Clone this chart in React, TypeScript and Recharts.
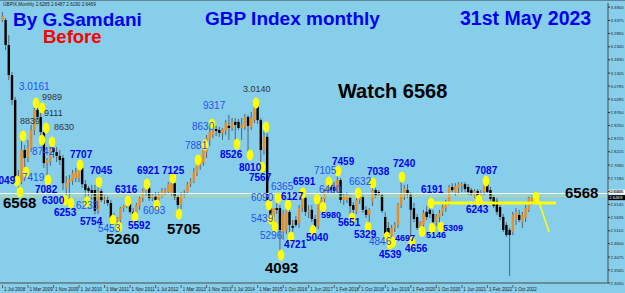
import React from "react";
import { ComposedChart, Bar, XAxis, YAxis, ReferenceLine, ReferenceDot } from "recharts";

// monthly GBP index bars [open, high, low, close], Jul 2008 .. May 2023 (feed has gaps)
const CANDLES: [number, number, number, number][] = [
  [3.339, 3.371, 3.331, 3.355], [3.339, 3.347, 3.221, 3.241], [3.241, 3.28, 3.103, 3.123], [3.123, 3.135, 3.005, 3.025],
  [3.025, 3.037, 2.7049, 2.718], [2.718, 2.75, 2.6568, 2.702], [2.702, 2.8839, 2.694, 2.828], [2.828, 2.848, 2.7419, 2.797],
  [2.797, 2.868, 2.781, 2.836], [2.836, 2.927, 2.82, 2.907], [2.907, 3.0161, 2.887, 2.986], [2.986, 2.994, 2.946, 2.958],
  [2.958, 2.9989, 2.8742, 2.899], [2.899, 2.9111, 2.758, 2.777], [2.777, 2.797, 2.7082, 2.789], [2.785, 2.848, 2.766, 2.836],
  [2.836, 2.863, 2.797, 2.82], [2.82, 2.84, 2.781, 2.805], [2.805, 2.828, 2.769, 2.789], [2.797, 2.809, 2.671, 2.698],
  [2.679, 2.726, 2.63, 2.702], [2.702, 2.73, 2.6253, 2.714], [2.706, 2.75, 2.691, 2.738], [2.718, 2.758, 2.702, 2.742],
  [2.718, 2.7707, 2.702, 2.758], [2.758, 2.766, 2.679, 2.694], [2.694, 2.71, 2.6233, 2.671], [2.679, 2.687, 2.647, 2.667],
  [2.671, 2.691, 2.632, 2.659], [2.671, 2.691, 2.5754, 2.589], [2.593, 2.7045, 2.577, 2.667], [2.667, 2.675, 2.624, 2.632],
  [2.632, 2.651, 2.616, 2.636], [2.632, 2.647, 2.608, 2.62], [2.62, 2.632, 2.5453, 2.561], [2.561, 2.581, 2.538, 2.549],
  [2.549, 2.565, 2.526, 2.561], [2.553, 2.604, 2.538, 2.6], [2.6, 2.612, 2.585, 2.608], [2.608, 2.6316, 2.6, 2.62],
  [2.616, 2.624, 2.577, 2.585], [2.585, 2.6, 2.5592, 2.573], [2.573, 2.62, 2.565, 2.612], [2.608, 2.647, 2.593, 2.64],
  [2.64, 2.679, 2.624, 2.667], [2.667, 2.6921, 2.647, 2.679], [2.679, 2.687, 2.628, 2.64], [2.64, 2.659, 2.628, 2.647],
  [2.647, 2.663, 2.6093, 2.632], [2.632, 2.663, 2.62, 2.651], [2.647, 2.679, 2.64, 2.667], [2.663, 2.679, 2.651, 2.671],
  [2.663, 2.702, 2.655, 2.694], [2.659, 2.7125, 2.647, 2.698], [2.698, 2.706, 2.632, 2.643], [2.643, 2.651, 2.5705, 2.612],
  [2.612, 2.663, 2.596, 2.651], [2.651, 2.671, 2.64, 2.659], [2.663, 2.702, 2.655, 2.694], [2.694, 2.718, 2.683, 2.706],
  [2.706, 2.758, 2.698, 2.742], [2.738, 2.7881, 2.726, 2.777], [2.769, 2.797, 2.75, 2.789], [2.777, 2.863, 2.766, 2.828],
  [2.82, 2.887, 2.797, 2.876], [2.868, 2.915, 2.844, 2.899], [2.887, 2.9317, 2.876, 2.911], [2.911, 2.923, 2.883, 2.903],
  [2.907, 2.919, 2.88, 2.895], [2.895, 2.915, 2.868, 2.911], [2.903, 2.946, 2.887, 2.935], [2.923, 2.966, 2.868, 2.915],
  [2.915, 2.954, 2.903, 2.939], [2.939, 2.954, 2.8526, 2.927], [2.939, 2.95, 2.907, 2.915], [2.915, 2.954, 2.868, 2.927],
  [2.919, 2.97, 2.907, 2.958], [2.958, 2.966, 2.801, 2.923], [2.919, 2.978, 2.907, 2.954], [2.946, 3.014, 2.935, 3.001],
  [3.001, 3.009, 2.931, 2.946], [2.946, 2.954, 2.7567, 2.828], [2.828, 2.919, 2.809, 2.88], [2.88, 2.895, 2.609, 2.632],
  [2.616, 2.632, 2.5439, 2.573], [2.545, 2.593, 2.5296, 2.6], [2.6, 2.6365, 2.577, 2.593], [2.6, 2.612, 2.4093, 2.514],
  [2.506, 2.593, 2.475, 2.577], [2.514, 2.6127, 2.498, 2.589], [2.585, 2.593, 2.4721, 2.534], [2.53, 2.553, 2.506, 2.522],
  [2.553, 2.569, 2.526, 2.534], [2.542, 2.612, 2.522, 2.6], [2.6, 2.6591, 2.585, 2.64], [2.64, 2.647, 2.569, 2.585],
  [2.585, 2.612, 2.561, 2.593], [2.593, 2.612, 2.545, 2.557], [2.557, 2.573, 2.504, 2.526], [2.53, 2.64, 2.518, 2.624],
  [2.624, 2.643, 2.598, 2.636], [2.636, 2.675, 2.62, 2.667], [2.667, 2.7105, 2.655, 2.698], [2.698, 2.706, 2.659, 2.671],
  [2.683, 2.702, 2.655, 2.667], [2.667, 2.7459, 2.655, 2.71], [2.71, 2.718, 2.62, 2.632], [2.632, 2.655, 2.612, 2.643],
  [2.632, 2.663, 2.62, 2.651], [2.64, 2.651, 2.577, 2.608], [2.612, 2.624, 2.5651, 2.593], [2.585, 2.64, 2.577, 2.632],
  [2.632, 2.6632, 2.616, 2.643], [2.643, 2.651, 2.581, 2.593], [2.593, 2.608, 2.561, 2.573], [2.573, 2.6, 2.5329, 2.593],
  [2.624, 2.7038, 2.608, 2.671], [2.671, 2.679, 2.64, 2.651], [2.663, 2.671, 2.647, 2.655], [2.651, 2.659, 2.581, 2.589],
  [2.565, 2.585, 2.4846, 2.498], [2.522, 2.545, 2.4539, 2.49], [2.49, 2.534, 2.4697, 2.522], [2.522, 2.545, 2.506, 2.534],
  [2.534, 2.62, 2.522, 2.612], [2.612, 2.724, 2.6, 2.659], [2.651, 2.691, 2.632, 2.679], [2.671, 2.694, 2.64, 2.659],
  [2.651, 2.663, 2.4656, 2.593], [2.6, 2.62, 2.545, 2.557], [2.565, 2.577, 2.514, 2.522], [2.518, 2.549, 2.506, 2.545],
  [2.534, 2.593, 2.518, 2.581], [2.585, 2.608, 2.553, 2.565], [2.593, 2.6191, 2.561, 2.577], [2.577, 2.593, 2.5146, 2.545],
  [2.545, 2.577, 2.53, 2.569], [2.565, 2.593, 2.5309, 2.581], [2.581, 2.616, 2.569, 2.604], [2.6, 2.632, 2.585, 2.62],
  [2.62, 2.691, 2.612, 2.683], [2.683, 2.698, 2.663, 2.671], [2.659, 2.698, 2.647, 2.687], [2.679, 2.702, 2.655, 2.694],
  [2.687, 2.702, 2.663, 2.694], [2.694, 2.702, 2.663, 2.675], [2.683, 2.694, 2.651, 2.663], [2.671, 2.679, 2.647, 2.655],
  [2.651, 2.675, 2.64, 2.667], [2.667, 2.675, 2.6243, 2.647], [2.647, 2.671, 2.636, 2.659], [2.663, 2.7087, 2.651, 2.702],
  [2.694, 2.702, 2.655, 2.663], [2.671, 2.683, 2.628, 2.636], [2.643, 2.651, 2.6, 2.608], [2.628, 2.64, 2.573, 2.585],
  [2.604, 2.612, 2.553, 2.565], [2.565, 2.577, 2.506, 2.514], [2.534, 2.545, 2.487, 2.494], [2.514, 2.522, 2.333, 2.494],
  [2.506, 2.585, 2.494, 2.573], [2.553, 2.6, 2.534, 2.585], [2.573, 2.593, 2.545, 2.553], [2.545, 2.585, 2.522, 2.573],
  [2.561, 2.612, 2.545, 2.6], [2.593, 2.647, 2.585, 2.64], [2.62, 2.651, 2.612, 2.64], [2.6285, 2.6487, 2.619, 2.6469],
];

// date labels, one every 8 bars
const X_LABELS = [
  "1 Jul 2008", "1 Mar 2009", "1 Nov 2009", "1 Jul 2010", "1 Mar 2011", "1 Nov 2011", "1 Jul 2012",
  "1 Mar 2013", "1 Nov 2013", "1 Jul 2014", "1 Mar 2015", "1 Oct 2016", "1 Jun 2017", "1 Feb 2018",
  "1 Oct 2018", "1 Jun 2019", "1 Feb 2020", "1 Oct 2020", "1 Jun 2021", "1 Feb 2022", "1 Oct 2022",
];
const X_STEP = 8;

const Y_TICKS = [
  3.39, 3.3375, 3.2865, 3.234, 3.183, 3.1305, 3.0795, 3.0285, 2.976, 2.925, 2.8725,
  2.8215, 2.769, 2.718, 2.6655, 2.6145, 2.5635, 2.511, 2.46, 2.4075, 2.3565, 2.3055,
];

const WATCH = 2.6568;
const LAST = 2.6469;
const NECK = 2.62;

// yellow markers at pivots [bar, price]
const PIVOTS: [number, number][] = [
  [4.55, 2.7065], [5.49, 2.6633], [6.43, 2.8834], [7.37, 2.7419], [10.5, 3.0131], [12.38, 2.9935],
  [13.64, 2.9148], [12.38, 2.8677], [15.52, 2.8598], [14.26, 2.7104], [19.59, 2.6318], [21.47, 2.62],
  [24.29, 2.7694], [26.49, 2.6239], [30.25, 2.7026], [34.64, 2.553], [36.52, 2.5257], [39.34, 2.6279],
  [41.54, 2.5649], [45.3, 2.6947], [48.43, 2.6121], [53.45, 2.7183], [55.33, 2.5767], [61.29, 2.7891],
  [63.48, 2.8481], [65.67, 2.9306], [73.51, 2.852], [77.59, 2.8087], [79.47, 3.0131], [81.35, 2.7615],
  [82.6, 2.9188], [83.54, 2.6121], [84.17, 2.5571], [85.42, 2.5257], [86.36, 2.6397], [87.3, 2.4156],
  [89.5, 2.6121], [90.44, 2.4863], [94.2, 2.6593], [97.34, 2.5122], [98.59, 2.6357], [100.47, 2.6043],
  [102.35, 2.7026], [105.17, 2.7458], [109.56, 2.561], [111.44, 2.6593], [114.58, 2.5256], [116.14, 2.6986],
  [120.53, 2.4863], [121.47, 2.4588], [122.41, 2.4667], [125.24, 2.722], [128.37, 2.4667], [131.5, 2.5082],
  [134.64, 2.52], [137.46, 2.5256], [134.33, 2.62], [149.37, 2.6318], [151.57, 2.7065], [167.24, 2.6436],
];

// notes [text, bar, price, style]
const NOTES: [string, number, number, string][] = [
  ["3.0161", 5.17, 3.076, "n"], ["7419", 6.11, 2.722, "n"], ["8742", 9.25, 2.8205, "n"], ["6233", 23.04, 2.6082, "n"],
  ["6093", 44.04, 2.5886, "n"], ["5453", 29.94, 2.5217, "n"], ["7881", 57.21, 2.8441, "n"], ["8630", 59.4, 2.9188, "n"],
  ["9317", 62.85, 3.0013, "n"], ["6365", 84.17, 2.6868, "n"], ["6090", 77.9, 2.6397, "n"], ["5439", 77.9, 2.561, "n"],
  ["5296", 80.72, 2.4903, "n"], ["7105", 97.65, 2.7497, "n"], ["6400", 99.22, 2.675, "n"], ["6632", 108.62, 2.7026, "n"],
  ["4846", 114.89, 2.4706, "n"],
  ["7049", -2.98, 2.7065, "b"], ["7707", 21.16, 2.8126, "b"], ["7082", 10.19, 2.675, "b"], ["7045", 27.43, 2.7497, "b"],
  ["6921", 42.16, 2.7458, "b"], ["7125", 50.0, 2.7458, "b"], ["6316", 35.27, 2.6711, "b"], ["6300", 12.38, 2.6279, "b"],
  ["6253", 16.14, 2.5807, "b"], ["5754", 24.29, 2.5453, "b"], ["5592", 39.34, 2.5296, "b"], ["8526", 68.18, 2.8126, "b"],
  ["8010", 74.14, 2.7615, "b"], ["7567", 77.27, 2.722, "b"], ["6127", 87.3, 2.6436, "b"], ["6591", 91.07, 2.7026, "b"],
  ["7459", 103.29, 2.7812, "b"], ["5651", 105.17, 2.5414, "b"], ["7038", 114.26, 2.7419, "b"], ["5329", 110.19, 2.4981, "b"],
  ["4539", 118.03, 2.4195, "b"], ["7240", 122.41, 2.7733, "b"], ["4656", 126.18, 2.4392, "b"], ["6191", 131.19, 2.675, "b"],
  ["6243", 145.3, 2.5925, "b"], ["7087", 148.12, 2.7458, "b"], ["4721", 88.24, 2.4549, "b"], ["5040", 95.14, 2.4863, "b"],
  ["5980", 99.84, 2.5728, "s"], ["4697", 123.04, 2.4824, "s"], ["5146", 132.76, 2.4942, "s"], ["5309", 138.09, 2.5217, "s"],
  ["9989", 12.38, 3.0367, "g"], ["8839", 5.49, 2.9423, "g"], ["9111", 13.01, 2.9738, "g"], ["8630", 16.14, 2.9188, "g"],
  ["3.0140", 75.39, 3.0681, "g"],
  ["6568", 0.16, 2.62, "k"], ["5260", 32.45, 2.4785, "k"], ["5705", 51.57, 2.5217, "k"], ["4093", 82.29, 2.3645, "k"],
  ["6568", 176.33, 2.6593, "k"], ["Watch 6568", 105.17, 3.0603, "w"],
];

const FONT = "'Liberation Sans', Arial, sans-serif";
const NOTE_STYLE: Record<string, any> = {
  n: { fill: "#2450f0", fontSize: 10, fontWeight: 400 },
  b: { fill: "#0000f0", fontSize: 10, fontWeight: 700 },
  s: { fill: "#0000f0", fontSize: 9, fontWeight: 700 },
  g: { fill: "#333333", fontSize: 9, fontWeight: 400 },
  k: { fill: "#000000", fontSize: 15, fontWeight: 700 },
  w: { fill: "#000000", fontSize: 20, fontWeight: 700 },
};

const data = CANDLES.map(([o, h, l, c], i) => ({ i, o, h, l, c }));
const xTicks = X_LABELS.map((_, k) => k * X_STEP);

function Candle(props: any) {
  const { x, y, width, height, payload } = props;
  if (!payload || x == null) return null;
  const top = Math.min(y, y + height);
  const bot = Math.max(y, y + height);
  const span = payload.h - payload.l || 1;
  const py = (p: number) => top + ((payload.h - p) / span) * (bot - top);
  const cx = x + width / 2;
  const up = payload.c >= payload.o;
  const bt = py(Math.max(payload.o, payload.c));
  const bb = py(Math.min(payload.o, payload.c));
  return (
    <g>
      <line x1={cx} x2={cx} y1={top} y2={bot} stroke="#55626e" strokeWidth={1} />
      <rect x={cx - 1.2} y={bt} width={2.4} height={Math.max(bb - bt, 0.8)} fill={up ? "#f08c1c" : "#000"} />
    </g>
  );
}

const XTick = ({ x, y, payload }: any) => (
  <g>
    <line x1={x} x2={x} y1={y - 2} y2={y + 1} stroke="#333" strokeWidth={0.7} />
    <text x={x + 1.5} y={y + 4} fontSize={4.6} fill="#222" fontFamily={FONT}>
      {X_LABELS[Math.round(payload.value / X_STEP)]}
    </text>
  </g>
);

const YTick = ({ x, y, payload }: any) => (
  <text x={x - 1.5} y={y} dy={1.5} fontSize={4.3} fill="#222" fontFamily={FONT}>
    {payload.value.toFixed(4)}
  </text>
);

const PriceTag = (fill: string, color: string, txt: string, up: number) => (p: any) => {
  const vb = p.viewBox;
  return (
    <g>
      <rect x={vb.x + vb.width} y={vb.y - up} width={17} height={5} fill={fill} />
      <text x={vb.x + vb.width + 1.2} y={vb.y - up + 3.8} fontSize={4.3} fill={color} fontFamily={FONT}>{txt}</text>
    </g>
  );
};

export default function App() {
  return (
    <div style={{ position: "absolute", left: 0, top: 0, width: 625, height: 293, background: "#87ceeb", overflow: "hidden" }}>
      <ComposedChart width={625} height={293} data={data} margin={{ top: 3, right: 0, bottom: 0, left: 0 }}>
        <XAxis
          type="number"
          dataKey="i"
          domain={[-0.784, 189.81]}
          allowDataOverflow
          ticks={xTicks}
          interval={0}
          tick={<XTick />}
          tickLine={false}
          tickSize={2}
          height={10}
          axisLine={{ stroke: "#4a4a4a" }}
        />
        <YAxis
          orientation="right"
          type="number"
          domain={[2.3055, 3.4062]}
          allowDataOverflow
          ticks={Y_TICKS}
          interval={0}
          tick={<YTick />}
          tickSize={2}
          tickLine={{ stroke: "#333" }}
          width={17}
          axisLine={{ stroke: "#4a4a4a" }}
        />
        <ReferenceLine y={WATCH} stroke="#ffffff" strokeWidth={1} label={PriceTag("#ffffff", "#333", WATCH.toFixed(4), 4)} />
        <ReferenceLine y={LAST} stroke="#d8d860" strokeWidth={1} label={PriceTag("#000000", "#fff", LAST.toFixed(4), 1)} />
        <Bar dataKey={(d: any) => [d.l, d.h]} barSize={3} shape={<Candle />} isAnimationActive={false} />
        {PIVOTS.map(([bx, p], k) => (
          <ReferenceDot
            key={"p" + k}
            x={bx}
            y={p}
            ifOverflow="visible"
            shape={(s: any) => <ellipse cx={s.cx} cy={s.cy} rx={3.3} ry={5.6} fill="#ffff00" />}
          />
        ))}
        <ReferenceLine
          segment={[{ x: 135, y: NECK }, { x: 173.5, y: NECK }]}
          stroke="#ffff00"
          strokeWidth={3}
          ifOverflow="visible"
        />
        <ReferenceLine
          segment={[{ x: 167.5, y: 2.6515 }, { x: 171.3, y: 2.5061 }]}
          stroke="#ffff00"
          strokeWidth={1.5}
          ifOverflow="visible"
        />
        {NOTES.map(([t, bx, p, st], k) => (
          <ReferenceDot
            key={"n" + k}
            x={bx}
            y={p}
            ifOverflow="visible"
            shape={(s: any) => (
              <text x={s.cx} y={s.cy} dominantBaseline="central" fontFamily={FONT} {...NOTE_STYLE[st]}>
                {t}
              </text>
            )}
          />
        ))}
      </ComposedChart>
      <svg width={625} height={293} style={{ position: "absolute", left: 0, top: 0, pointerEvents: "none" }}>
        <line x1={0} x2={625} y1={0.5} y2={0.5} stroke="#5f8799" strokeWidth={1} />
        <text x={3} y={6} fontSize={4.6} fill="#222" fontFamily={FONT}>GBPIX,Monthly  2.6285 2.6487 2.6190 2.6469</text>
        <text x={13} y={26} fontSize={19} fontWeight={700} fill="#0000f0" fontFamily={FONT}>By G.Samdani</text>
        <text x={43} y={43} fontSize={18.5} fontWeight={700} fill="#ff0000" fontFamily={FONT}>Before</text>
        <text x={205} y={25} fontSize={19} fontWeight={700} fill="#0000f0" fontFamily={FONT}>GBP Index monthly</text>
        <text x={460} y={25} fontSize={19.5} fontWeight={700} fill="#0000f0" fontFamily={FONT}>31st May 2023</text>
      </svg>
    </div>
  );
}
